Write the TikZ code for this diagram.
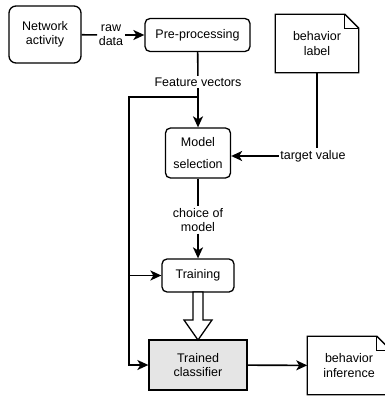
\documentclass[tikz,border=0pt]{standalone}
\usepackage{fontspec}
\setmainfont{Liberation Sans}
\usepackage{tikz}
\usetikzlibrary{calc}
\usetikzlibrary{arrows.meta}
\tikzset{>={Stealth[length=11pt,width=10pt,inset=3pt]}}

\newcommand{\dogear}[1]{%
    \draw[line width=1.3pt] (#1.south west) -- (#1.north west) -- ([xshift=-14pt]#1.north east)
        -- ([yshift=-14pt]#1.north east) -- (#1.south east) -- cycle;
    \draw[line width=1pt] ([xshift=-14pt]#1.north east) -- ([xshift=-14pt,yshift=-14pt]#1.north east)
        -- ([yshift=-14pt]#1.north east);
}

\begin{document}
\begin{tikzpicture}[x=1pt,y=-1pt,
        font=\fontsize{12.5}{14.5}\selectfont,
        every path/.style={line width=1.6pt},
        block/.style={draw, line width=1.3pt, rounded corners=5pt, align=center, inner sep=0pt},
        docnode/.style={align=center, inner sep=0pt, minimum width=82pt, minimum height=57pt},
        lbl/.style={align=center, inner sep=1pt, fill=white},
    ]
    \useasboundingbox (0,0) rectangle (385,396);

    \node[block, rounded corners=7pt, minimum width=72pt, minimum height=57pt] (net) at (45,34.5) {Network\\activity};
    \node[block, minimum width=105pt, minimum height=33pt] (prep) at (197.5,35) {Pre-processing};
    \node[block, minimum width=65pt, minimum height=50pt] (msel) at (198,153) {Model\\[8pt]selection};
    \node[block, minimum width=72pt, minimum height=33pt] (train) at (198,275.5) {Training};
    \node[block, rounded corners=0pt, fill=black!10, minimum width=98pt, minimum height=50pt] (clf) at (198,365) {Trained\\classifier};

    \node[docnode] (blab) at (317,43.5) {behavior\\label};
    \node[docnode] (binf) at (349,365.5) {behavior\\inference};
    \dogear{blab}
    \dogear{binf}

    % edge labels
    \node[lbl] (raw) at (111,35) {raw\\data};
    \node[lbl] (fv) at (198,82) {Feature vectors};
    \node[lbl] (choice) at (198,220) {choice of\\model};
    \node[lbl] (tv) at (313,156) {target value};

    \draw (net) -- (raw);
    \draw[->] (raw) -- (prep);
    \draw (prep) -- (fv);
    \coordinate (split) at (198,97);
    \coordinate (lft) at (129,97);
    \draw[->] (fv) -- (msel);
    \draw[->] (split) -- (lft) |- (clf);
    \draw[->] (lft |- train) -- (train);
    \draw (msel) -- (choice);
    \draw[->] (choice) -- (train);
    \draw (blab.south) -- (blab.south |- tv.north);
    \draw[->] (tv.west) -- (tv.west -| msel.east);
    \draw[->] (clf) -- (binf);

    % hollow block arrow
    \draw[line width=1.3pt, fill=white] (193,292) -- (203,292) -- (203,320) -- (212,320) -- (198,340)
        -- (184,320) -- (193,320) -- cycle;
\end{tikzpicture}
\end{document}
